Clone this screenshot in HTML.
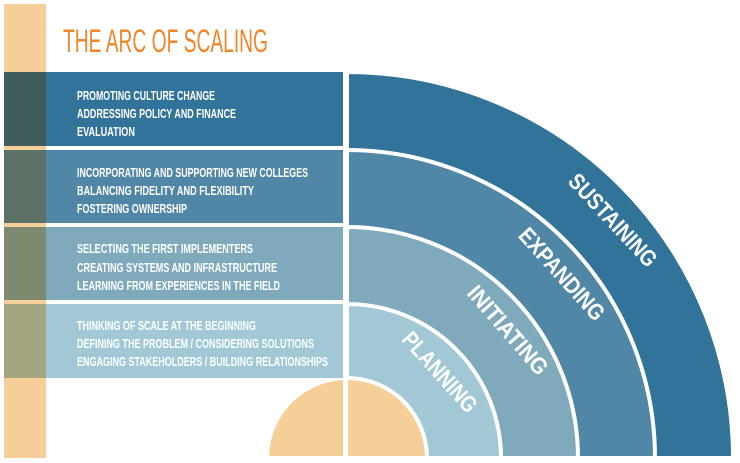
<!DOCTYPE html>
<html><head><meta charset="utf-8"><style>
html,body{margin:0;padding:0;background:#fff;width:740px;height:463px;overflow:hidden;}
svg{display:block;}
.t{font-family:"Liberation Sans",sans-serif;font-weight:bold;fill:#fff;font-size:13px;}
.a{font-family:"Liberation Sans",sans-serif;font-weight:bold;fill:#fff;font-size:23px;}
</style></head><body>
<svg width="740" height="463" viewBox="0 0 740 463" xmlns="http://www.w3.org/2000/svg">
<rect x="4" y="4" width="42" height="454" fill="#f6cf98"/>
<text x="63" y="52" font-family="Liberation Sans,sans-serif" font-size="32" fill="#f0862a" textLength="205" lengthAdjust="spacingAndGlyphs">THE ARC OF SCALING</text>
<g stroke="#fff" stroke-width="4">
<path d="M347,458 L347,72 A386,386 0 0 1 733,458 Z" fill="#32739a"/>
<path d="M347,458 L347,150 A308,308 0 0 1 655,458 Z" fill="#5187a6"/>
<path d="M347,458 L347,227 A231,231 0 0 1 578,458 Z" fill="#7faabc"/>
<path d="M347,458 L347,304 A154,154 0 0 1 501,458 Z" fill="#a2c8d5"/>
<path d="M267,458 A80,80 0 0 1 427,458 Z" fill="#f5cf98"/>
</g>
<rect x="4" y="72" width="339" height="74" fill="#32739a"/>
<rect x="4" y="72" width="42" height="74" fill="#3f5d5d"/>
<rect x="4" y="150" width="339" height="73" fill="#5187a6"/>
<rect x="4" y="150" width="42" height="73" fill="#5d7266"/>
<rect x="4" y="227" width="339" height="73" fill="#7faabc"/>
<rect x="4" y="227" width="42" height="73" fill="#7e8a70"/>
<rect x="4" y="304" width="339" height="74" fill="#a2c8d5"/>
<rect x="4" y="304" width="42" height="74" fill="#a2a57f"/>
<rect x="343" y="70" width="5" height="393" fill="#fff"/>
<text class="t" x="77" y="100" textLength="138" lengthAdjust="spacingAndGlyphs">PROMOTING CULTURE CHANGE</text>
<text class="t" x="77" y="118" textLength="159" lengthAdjust="spacingAndGlyphs">ADDRESSING POLICY AND FINANCE</text>
<text class="t" x="77" y="136" textLength="58" lengthAdjust="spacingAndGlyphs">EVALUATION</text>
<text class="t" x="77" y="177" textLength="231" lengthAdjust="spacingAndGlyphs">INCORPORATING AND SUPPORTING NEW COLLEGES</text>
<text class="t" x="77" y="195" textLength="177" lengthAdjust="spacingAndGlyphs">BALANCING FIDELITY AND FLEXIBILITY</text>
<text class="t" x="77" y="213" textLength="110" lengthAdjust="spacingAndGlyphs">FOSTERING OWNERSHIP</text>
<text class="t" x="77" y="253" textLength="176" lengthAdjust="spacingAndGlyphs">SELECTING THE FIRST IMPLEMENTERS</text>
<text class="t" x="77" y="272" textLength="200" lengthAdjust="spacingAndGlyphs">CREATING SYSTEMS AND INFRASTRUCTURE</text>
<text class="t" x="77" y="290" textLength="203" lengthAdjust="spacingAndGlyphs">LEARNING FROM EXPERIENCES IN THE FIELD</text>
<text class="t" x="77" y="330" textLength="179" lengthAdjust="spacingAndGlyphs">THINKING OF SCALE AT THE BEGINNING</text>
<text class="t" x="77" y="348" textLength="237" lengthAdjust="spacingAndGlyphs">DEFINING THE PROBLEM / CONSIDERING SOLUTIONS</text>
<text class="t" x="77" y="366" textLength="251" lengthAdjust="spacingAndGlyphs">ENGAGING STAKEHOLDERS / BUILDING RELATIONSHIPS</text>
<text class="a" transform="translate(613,220) rotate(47)" text-anchor="middle" y="8" textLength="118" lengthAdjust="spacingAndGlyphs">SUSTAINING</text>
<text class="a" transform="translate(562,274) rotate(48)" text-anchor="middle" y="8" textLength="116" lengthAdjust="spacingAndGlyphs">EXPANDING</text>
<text class="a" transform="translate(508,330) rotate(49)" text-anchor="middle" y="8" textLength="110" lengthAdjust="spacingAndGlyphs">INITIATING</text>
<text class="a" transform="translate(440,372) rotate(48)" text-anchor="middle" y="8" textLength="100" lengthAdjust="spacingAndGlyphs">PLANNING</text>
</svg>
</body></html>
